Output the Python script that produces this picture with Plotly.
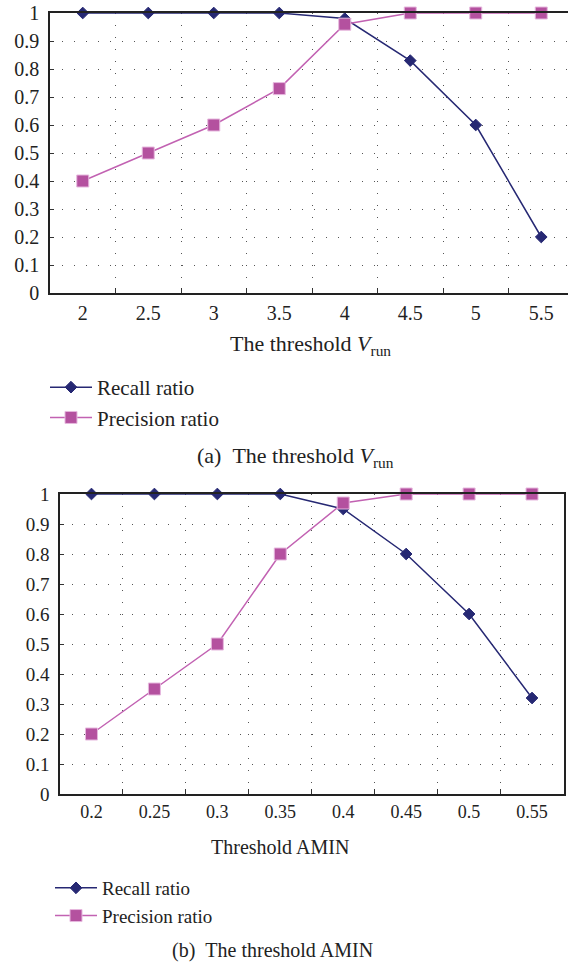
import plotly.graph_objects as go

# ---- data ----
vrun_labels = ["2", "2.5", "3", "3.5", "4", "4.5", "5", "5.5"]
recall_a = [1.0, 1.0, 1.0, 1.0, 0.98, 0.83, 0.60, 0.20]
precision_a = [0.40, 0.50, 0.60, 0.73, 0.96, 1.0, 1.0, 1.0]

amin_labels = ["0.2", "0.25", "0.3", "0.35", "0.4", "0.45", "0.5", "0.55"]
recall_b = [1.0, 1.0, 1.0, 1.0, 0.95, 0.80, 0.60, 0.32]
precision_b = [0.20, 0.35, 0.50, 0.80, 0.97, 1.0, 1.0, 1.0]

W, H = 568, 964
OFF = 0  # page body offset (body margin removed below)
NAVY = "#262873"
PINK = "#b4519f"
PINK_LINE = "#c262b2"
FONT = "Liberation Serif"
TXT = "#222222"


def px_x(s):
    return (s - OFF) / W


def px_y(s):
    return 1 - (s - OFF) / H


fig = go.Figure()


def add_pair(xs, rec, prec, xa, ya, leg):
    fig.add_trace(go.Scatter(
        x=xs, y=rec, name="Recall ratio", mode="lines+markers",
        xaxis=xa, yaxis=ya, legend=leg, cliponaxis=False,
        line=dict(color=NAVY, width=1.5),
        marker=dict(symbol="diamond", size=9, color=NAVY,
                    line=dict(color=NAVY, width=1))))
    fig.add_trace(go.Scatter(
        x=xs, y=prec, name="Precision ratio", mode="lines+markers",
        xaxis=xa, yaxis=ya, legend=leg, cliponaxis=False,
        line=dict(color=PINK_LINE, width=1.5),
        marker=dict(symbol="square", size=12, color=PINK,
                    line=dict(color="#e6b8de", width=1))))


add_pair(vrun_labels, recall_a, precision_a, "x", "y", "legend")
add_pair(amin_labels, recall_b, precision_b, "x2", "y2", "legend2")

grid = dict(showgrid=True, gridcolor="#555555", gridwidth=1, griddash="1px,11px")


def xaxis(domain, rng, anchor, fsize):
    return dict(domain=domain, type="category", range=rng, anchor=anchor,
                tickson="boundaries", ticks="inside", ticklen=5,
                tickcolor="#333333", tickwidth=1, automargin=False,
                showline=True, linecolor="#222222", linewidth=1.5, mirror=True,
                tickfont=dict(family=FONT, size=fsize, color=TXT),
                ticklabeloverflow="allow",
                ticklabelstandoff=1, **grid)


def yaxis(domain, anchor, mirror, fsize):
    return dict(domain=domain, range=[0, 1], anchor=anchor,
                tick0=0, dtick=0.1, ticks="inside", ticklen=4,
                tickcolor="#333333", zeroline=False, automargin=False,
                showline=True, linecolor="#222222", linewidth=1.5, mirror=mirror,
                tickfont=dict(family=FONT, size=fsize, color=TXT),
                ticklabeloverflow="allow",
                ticklabelstandoff=5, **grid)


def legend(x_s, y_s, fsize):
    return dict(x=px_x(x_s), y=px_y(y_s), xanchor="left", yanchor="top",
                bgcolor="rgba(0,0,0,0)", itemwidth=42, tracegroupgap=0,
                font=dict(family=FONT, size=fsize, color=TXT))


# panel geometry (screen px)
a_left, a_top, a_bot = 50, 13, 293
a_cat = 65.5
b_left, b_right, b_top, b_bot = 60, 563.5, 494, 794
a_range_hi = -0.5 + (W + OFF - a_left) / a_cat

fig.update_layout(
    width=W, height=H,
    margin=dict(l=0, r=0, t=0, b=0, autoexpand=False),
    paper_bgcolor="white", plot_bgcolor="white",
    font=dict(family=FONT, size=20, color=TXT),
    showlegend=True,
    xaxis=xaxis([px_x(a_left), 1.0], [-0.5, a_range_hi], "y", 20),
    yaxis=yaxis([px_y(a_bot), px_y(a_top)], "x", False, 20),
    xaxis2=xaxis([px_x(b_left), px_x(b_right)], [-0.5, 7.5], "y2", 18),
    yaxis2=yaxis([px_y(b_bot), px_y(b_top)], "x2", True, 19),
    legend=legend(45, 367, 21),
    legend2=legend(50, 869, 19),
)

ann = [
    ("The threshold <i>V</i><sub>run</sub>", 310, 345, 22),
    ("(a)\u2002The threshold <i>V</i><sub>run</sub>", 295, 457, 22),
    ("Threshold AMIN", 280, 847, 20),
    ("(b)\u2002The threshold AMIN", 272, 950, 20),
]
for text, xs, ys, fs in ann:
    fig.add_annotation(text=text, x=px_x(xs), y=px_y(ys), xref="paper", yref="paper",
                       xanchor="center", yanchor="middle", showarrow=False,
                       font=dict(family=FONT, size=fs, color=TXT))

fig.write_html(
    "out.html",
    config={"displayModeBar": False},
    post_script="document.body.style.margin='0';document.body.style.overflow='hidden';",
)
